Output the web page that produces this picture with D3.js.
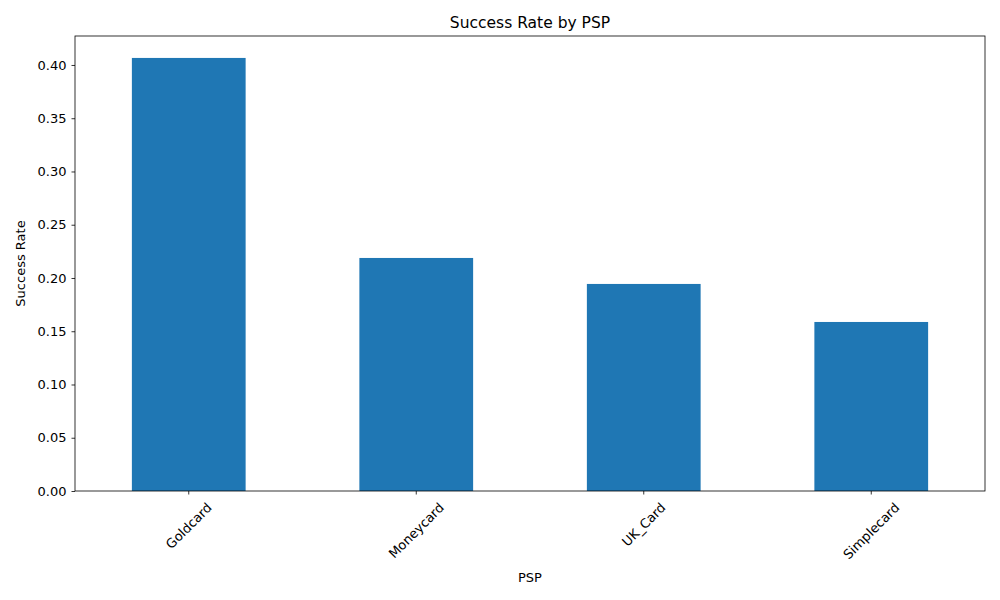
<!DOCTYPE html>
<html><head><meta charset="utf-8">
<script src="https://cdn.jsdelivr.net/npm/d3@7"></script>
<style>body{margin:0;background:#fff;font-family:"DejaVu Sans",sans-serif;}</style>
</head><body>
<svg id="chart" width="1000" height="600"></svg>
<script>
const categories = ["Goldcard", "Moneycard", "UK_Card", "Simplecard"];
const successRate = [0.4066, 0.2188, 0.1944, 0.1587];
const yTicks = [0, 0.05, 0.10, 0.15, 0.20, 0.25, 0.30, 0.35, 0.40];

const m = {left: 75, right: 985, top: 36, bottom: 491};
const svg = d3.select("#chart");
const x = d3.scaleBand().domain(categories).range([m.left, m.right]).paddingInner(0.5).paddingOuter(0.25);
const y = d3.scaleLinear().domain([0, 0.4272]).range([m.bottom, m.top]);

svg.selectAll("rect.bar").data(categories).enter().append("rect")
  .attr("class", "bar")
  .attr("x", d => x(d))
  .attr("width", x.bandwidth())
  .attr("y", (d, i) => y(successRate[i]))
  .attr("height", (d, i) => y(0) - y(successRate[i]))
  .attr("fill", "#1f77b4");

const yAxis = svg.append("g").attr("transform", `translate(${m.left},0)`)
  .call(d3.axisLeft(y).tickValues(yTicks).tickFormat(d3.format(".2f")).tickSize(3.5).tickPadding(5));
const xAxis = svg.append("g").attr("transform", `translate(0,${m.bottom})`)
  .call(d3.axisBottom(x).tickSize(3.5).tickPadding(5));
[yAxis, xAxis].forEach(a => {
  a.select(".domain").remove();
  a.selectAll("text").attr("font-size", 13).attr("font-family", "DejaVu Sans").attr("fill", "#000");
  a.selectAll("line").attr("stroke", "#000").attr("stroke-width", 0.8);
});
xAxis.selectAll("text").each(function() {
  const t = d3.select(this);
  const L = this.getComputedTextLength();
  const side = (L + 12) / Math.SQRT2;
  t.attr("text-anchor", "middle").attr("dy", "0.35em").attr("y", 0)
   .attr("transform", `translate(0,${10 + side / 2}) rotate(-45)`);
});

svg.append("rect").attr("x", m.left).attr("y", m.top)
  .attr("width", m.right - m.left).attr("height", m.bottom - m.top)
  .attr("fill", "none").attr("stroke", "#000").attr("stroke-width", 0.8);

svg.append("text").attr("x", (m.left + m.right) / 2).attr("y", 28)
  .attr("text-anchor", "middle").attr("font-size", 15.5).attr("font-family", "DejaVu Sans")
  .text("Success Rate by PSP");
svg.append("text").attr("x", (m.left + m.right) / 2).attr("y", 582)
  .attr("text-anchor", "middle").attr("font-size", 13).attr("font-family", "DejaVu Sans")
  .text("PSP");
svg.append("text").attr("transform", `translate(25,${(m.top + m.bottom) / 2}) rotate(-90)`)
  .attr("text-anchor", "middle").attr("font-size", 13).attr("font-family", "DejaVu Sans")
  .text("Success Rate");
</script>
</body></html>
